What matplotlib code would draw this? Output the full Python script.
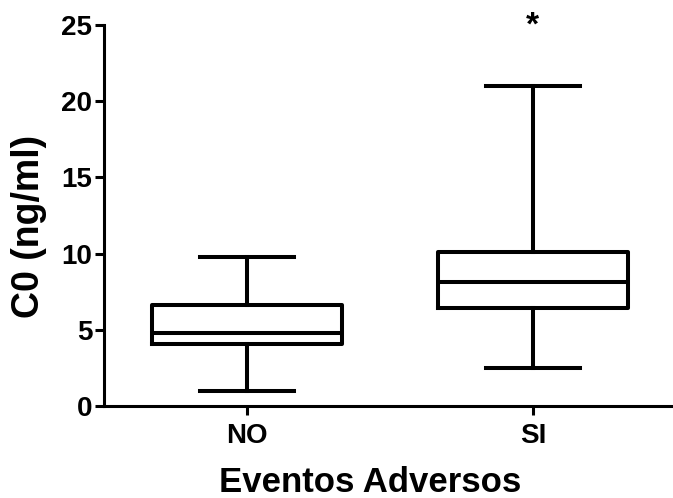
import matplotlib
matplotlib.use("Agg")
import matplotlib.pyplot as plt

plt.rcParams['font.family'] = ['Liberation Sans', 'DejaVu Sans']
plt.rcParams['font.weight'] = 'bold'

# box plot summary
groups = ["NO", "SI"]
whisker_low = [1.0, 2.5]
q1 = [4.07, 6.43]
median = [4.8, 8.16]
q3 = [6.63, 10.1]
whisker_high = [9.8, 21.0]
yticks = [0, 5, 10, 15, 20, 25]

fig = plt.figure(figsize=(6.73, 4.98), dpi=100)
ax = fig.add_axes([104/673, 92/498, 569/673, 381/498])

stats = []
for i in range(len(groups)):
    stats.append({'label': groups[i], 'whislo': whisker_low[i], 'q1': q1[i],
                  'med': median[i], 'q3': q3[i], 'whishi': whisker_high[i]})

lw = 2.9
ax.bxp(stats, positions=[0, 1], widths=0.667, capwidths=0.33, showfliers=False,
       boxprops=dict(color='black', linewidth=lw),
       whiskerprops=dict(color='black', linewidth=lw),
       capprops=dict(color='black', linewidth=lw),
       medianprops=dict(color='black', linewidth=lw))

# significance mark over SI
ax.text(1, 24.9, "*", ha='center', va='center', fontsize=24, clip_on=False)

ax.set_xlim(-0.5, 1.49)
ax.set_ylim(0, 25)
ax.set_yticks(yticks)
ax.set_xticks([0, 1])
ax.set_xticklabels(groups)

for s in ['top', 'right']:
    ax.spines[s].set_visible(False)
for s in ['left', 'bottom']:
    ax.spines[s].set_linewidth(2.2)

ax.tick_params(axis='y', labelsize=20, width=2.2, length=6.5, pad=2)
ax.tick_params(axis='x', labelsize=20, width=2.2, length=6.5, pad=6)

ax.set_xlabel("Eventos Adversos", fontsize=25, fontweight='bold')
ax.xaxis.set_label_coords(0.4675, -0.226)
ax.xaxis.label.set_va('baseline')

ax.set_ylabel("C0 (ng/ml)", fontsize=27, fontweight='bold')
ax.yaxis.set_label_coords(-0.132, 0.472)
ax.yaxis.label.set_va('center')
ax.yaxis.label.set_ha('center')

fig.savefig("out.png", dpi=100)
